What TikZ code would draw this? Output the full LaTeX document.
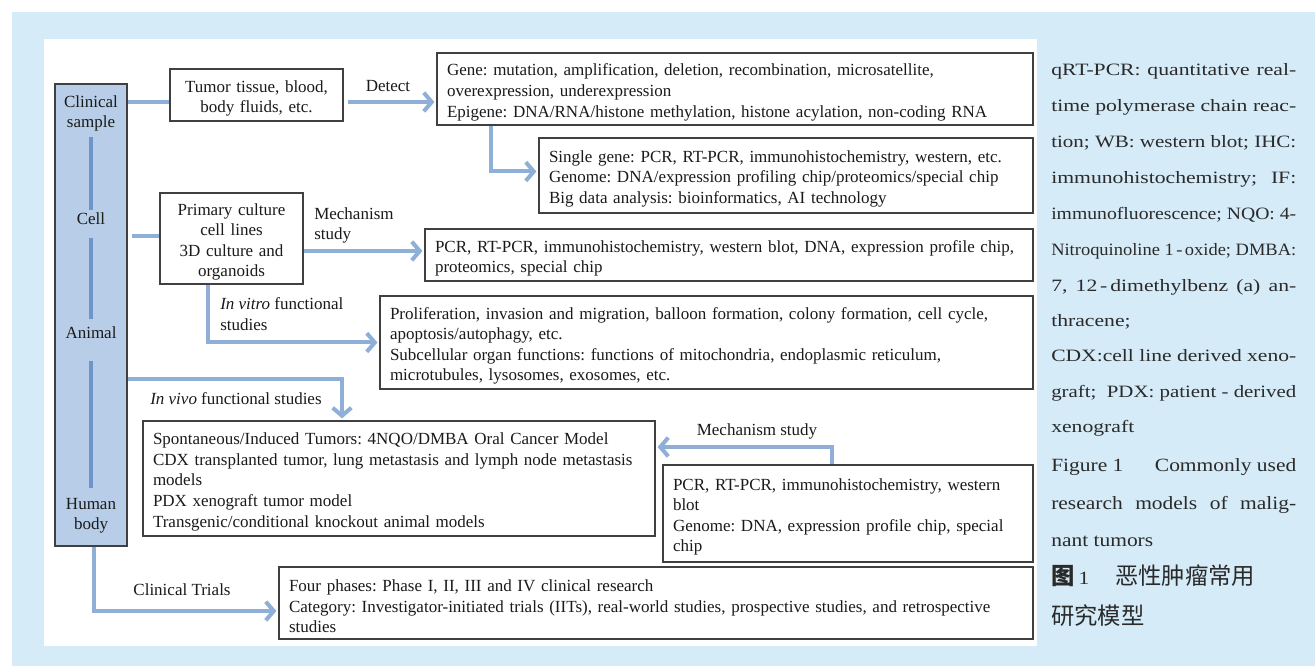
\documentclass[tikz,border=0pt]{standalone}
\usepackage{fontspec}
\usepackage{graphicx}
\setmainfont{Liberation Serif}
\newfontfamily\capfont[FakeStretch=1.25]{Liberation Serif}
\newfontfamily\titfont[FakeStretch=1.15]{Liberation Serif}
\newfontfamily\cjk{Noto Sans CJK SC}
\usetikzlibrary{arrows.meta,calc}
\definecolor{bgblue}{HTML}{D5EBF8}
\definecolor{leftc}{HTML}{B8CEE8}
\definecolor{innerc}{HTML}{6E95C9}
\definecolor{arrc}{HTML}{8EAFD8}
\definecolor{boxc}{HTML}{404040}
\definecolor{txtc}{HTML}{1A1A1A}
\definecolor{capc}{HTML}{2A2A2A}
\newsavebox\jbox
\newcommand\jline[1]{\sbox\jbox{#1}\ifdim\wd\jbox>183.75pt\relax\resizebox{183.75pt}{\height}{\usebox\jbox}\else\makebox[183.75pt][s]{#1}\fi}
\frenchspacing
\begin{document}
\begin{tikzpicture}[x=0.75pt,y=-0.75pt,
  every node/.style={font=\fontsize{12.75}{15.4}\selectfont, text=txtc},
  box/.style={draw=boxc, line width=0.9pt, fill=white, inner xsep=7.5pt, inner ysep=0pt, align=left, execute at begin node={\rule{0pt}{14pt}}},
  lbl/.style={inner sep=0pt},
  arr/.style={draw=arrc, line width=3pt, shorten >=1.5pt, -{Straight Barb[length=6pt,width=14pt]}},
  link/.style={draw=arrc, line width=3pt},
  innerl/.style={draw=innerc, line width=3pt},
  captext/.style={inner sep=0pt, anchor=base west, font=\capfont\fontsize{13}{15}\selectfont, text=capc},
  tittext/.style={inner sep=0pt, anchor=base west, font=\titfont\fontsize{14}{17}\selectfont, text=capc},
]
\useasboundingbox (0,0) rectangle (1315,666);
\fill[white] (0,0) rectangle (1315,666);
\fill[bgblue] (12,12) rectangle (1315,666);
\fill[white] (44,39) rectangle (1037,646);

% left column
\node[draw=boxc, line width=0.9pt, fill=leftc, minimum width=54pt, minimum height=346.5pt, inner sep=0pt] (left) at (91,315) {};
\node[lbl, align=center] (clin) at (91,113.5) {Clinical\\sample};
\node[lbl] (cell) at (91,219) {Cell};
\node[lbl] (animal) at (91,333) {Animal};
\node[lbl, align=center] (human) at (91,516) {Human\\body};
\draw[innerl, shorten <=4.1pt, shorten >=2.4pt] (clin.south) -- (cell.north);
\draw[innerl, shorten <=9.3pt, shorten >=6pt] (cell.south) -- (animal.north);
\draw[innerl, shorten <=16pt, shorten >=7.5pt] (animal.south) -- (human.north);

% boxes
\node[box, align=center, minimum width=129.75pt, minimum height=39pt, text width=114.75pt] (tumor) at (256.5,95) {Tumor tissue, blood,\\body fluids, etc.};
\node[box, minimum width=447pt, minimum height=54pt, text width=432pt] (gene) at (735,89) {Gene: mutation, amplification, deletion, recombination, microsatellite,\\overexpression, underexpression\\Epigene: DNA/RNA/histone methylation, histone acylation, non-coding RNA};
\node[box, minimum width=370.5pt, minimum height=56.25pt, text width=355.5pt] (single) at (786,175.5) {Single gene: PCR, RT-PCR, immunohistochemistry, western, etc.\\Genome: DNA/expression profiling chip/proteomics/special chip\\Big data analysis: bioinformatics, AI technology};
\node[box, align=center, minimum width=107.25pt, minimum height=68.25pt, text width=92.25pt] (primary) at (231.5,238.5) {Primary culture\\cell lines\\3D culture and\\organoids};
\node[box, minimum width=456pt, minimum height=39pt, text width=441pt] (pcr) at (729,255) {PCR, RT-PCR, immunohistochemistry, western blot, DNA, expression profile chip,\\proteomics, special chip};
\node[box, minimum width=489.75pt, minimum height=69.75pt, text width=474.75pt] (prolif) at (706.5,342.5) {Proliferation, invasion and migration, balloon formation, colony formation, cell cycle,\\apoptosis/autophagy, etc.\\Subcellular organ functions: functions of mitochondria, endoplasmic reticulum,\\microtubules, lysosomes, exosomes, etc.};
\node[box, minimum width=384pt, minimum height=86.25pt, text width=369pt] (spont) at (399,478.5) {Spontaneous/Induced Tumors: 4NQO/DMBA Oral Cancer Model\\CDX transplanted tumor, lung metastasis and lymph node metastasis\\models\\PDX xenograft tumor model\\Transgenic/conditional knockout animal models};
\node[box, minimum width=277.5pt, minimum height=72.75pt, text width=262.5pt] (pcr2) at (848,513.5) {PCR, RT-PCR, immunohistochemistry, western\\blot\\Genome: DNA, expression profile chip, special\\chip};
\node[box, minimum width=565.5pt, minimum height=54pt, text width=550.5pt] (four) at (656,603) {Four phases: Phase I, II, III and IV clinical research\\Category: Investigator-initiated trials (IITs), real-world studies, prospective studies, and retrospective\\studies};

% labels
\node[lbl] (detect) at (388,86) {Detect};
\node[lbl, anchor=west, align=left] (mech1) at (314,225.5) {Mechanism\\study};
\node[lbl, anchor=west, align=left] (vitro) at (220,314) {\textit{In vitro} functional\\studies};
\node[lbl, anchor=west] (vivo) at (150,399) {\textit{In vivo} functional studies};
\node[lbl] (mech2) at (757,431) {Mechanism study};
\node[lbl] (trials) at (182,590) {Clinical Trials};

% connectors
\coordinate (t1) at ($(tumor.west)+(0,7)$);
\draw[link] (left.east |- t1) -- (t1);
\coordinate (t2) at ($(tumor.east)+(4,7)$);
\draw[arr] (t2) -- (t2 -| gene.west);
\coordinate (g1) at ($(gene.south west)+(55,0)$);
\coordinate (s1) at ($(single.west)+(0,-4)$);
\draw[arr] (g1) |- (s1);
\coordinate (p1) at ($(primary.west)+(0,-2)$);
\draw[link, shorten <=3pt] (left.east |- p1) -- (p1);
\coordinate (p2) at ($(primary.east)+(0,12.5)$);
\draw[arr] (p2) -- (p2 -| pcr.west);
\coordinate (p3) at ($(primary.south)+(-23.5,0)$);
\draw[arr] (p3) |- (prolif.west);
\coordinate (v1) at ($(left.east)+(0,64)$);
\coordinate (v2) at ($(spont.north)+(-57,0)$);
\draw[arr] (v1) -| (v2);
\coordinate (m1) at ($(pcr2.north)+(-16,0)$);
\coordinate (m2) at ($(spont.east)+(0,-31.5)$);
\draw[arr] (m1) |- (m2);
\coordinate (c1) at ($(left.south)+(3,0)$);
\coordinate (c2) at ($(four.west)+(0,8)$);
\draw[arr] (c1) |- (c2);

% caption text
\node[captext] (r1) at (1051,76) {\jline{qRT-PCR: quantitative real-}};
\node[captext] (r2) at (1051,112) {\jline{time polymerase chain reac-}};
\node[captext] (r3) at (1051,148) {\jline{tion; WB: western blot; IHC:}};
\node[captext] (r4) at (1051,184) {\jline{immunohistochemistry;\ \ IF:}};
\node[captext] (r5) at (1051,220) {\jline{immunofluorescence; NQO: 4-}};
\node[captext] (r6) at (1051,256) {\jline{Nitroquinoline 1\,-\,oxide; DMBA:}};
\node[captext] (r7) at (1051,292) {\jline{7, 12\,-\,dimethylbenz (a) an-}};
\node[captext] (r8) at (1051,327) {thracene;};
\node[captext] (r9) at (1051,362) {\jline{CDX:cell line derived xeno-}};
\node[captext] (r10) at (1051,398) {\jline{graft;\ \ PDX: patient - derived}};
\node[captext] (r11) at (1051,433) {xenograft};
\node[tittext] (f1) at (1051,472) {\makebox[183.75pt][s]{Figure 1\hfill Commonly used}};
\node[tittext] (f2) at (1051,510) {\jline{research models of malig-}};
\node[tittext] (f3) at (1051,547) {nant tumors};
\node[captext, font=\cjk\fontsize{17.5}{20}\selectfont] (z1) at (1051,585) {\makebox[48pt][l]{{\bfseries 图}\hspace{3pt}{\titfont\fontsize{14}{17}\selectfont 1}}恶性肿瘤常用};
\node[captext, font=\cjk\fontsize{17.5}{20}\selectfont] (z2) at (1051,624) {研究模型};
\end{tikzpicture}
\end{document}
